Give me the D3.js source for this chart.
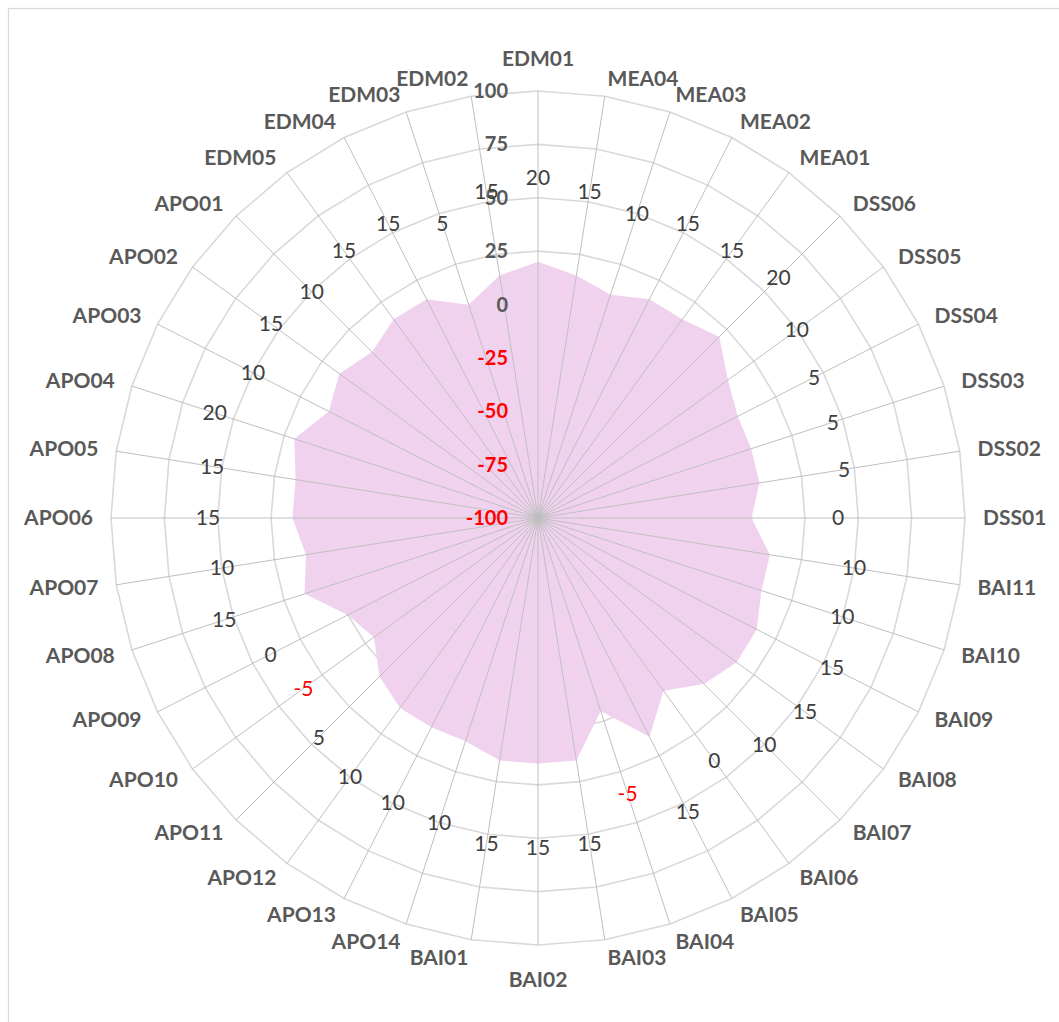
<!DOCTYPE html>
<html>
<head>
<meta charset="utf-8">
<script src="https://cdn.jsdelivr.net/npm/d3@7"></script>
<style>
  html, body { margin: 0; padding: 0; background: #fff; }
  svg { display: block; }
</style>
</head>
<body>
<svg id="chart" width="1059" height="1022"></svg>
<script>
// ---- data ----
const categories = ["EDM01","MEA04","MEA03","MEA02","MEA01","DSS06","DSS05","DSS04","DSS03","DSS02",
  "DSS01","BAI11","BAI10","BAI09","BAI08","BAI07","BAI06","BAI05","BAI04","BAI03",
  "BAI02","BAI01","APO14","APO13","APO12","APO11","APO10","APO09","APO08","APO07",
  "APO06","APO05","APO04","APO03","APO02","APO01","EDM05","EDM04","EDM03","EDM02"];
const values = [20,15,10,15,15,20,10,5,5,5,
  0,10,10,15,15,10,0,15,-5,15,
  15,15,10,10,10,5,-5,0,15,10,
  15,15,20,10,15,10,15,15,5,15];
const axisTicks = [-100,-75,-50,-25,0,25,50,75,100];

// ---- layout ----
const W = 1059, H = 1022;
const cx = 538, cy = 518, R = 427;
const svg = d3.select("#chart");
const font = "Lato, 'Open Sans', 'Liberation Sans', sans-serif";

// chart border (only top/left visible in frame)
svg.append("rect").attr("x", 8.5).attr("y", 8.5).attr("width", W + 20).attr("height", H + 20)
  .attr("fill", "none").attr("stroke", "#d9d9d9").attr("stroke-width", 1.2);

const g = svg.append("g").attr("transform", `translate(${cx},${cy})`);

const r = d3.scaleLinear().domain([-100, 100]).range([0, R]);
const angle = d3.scaleLinear().domain([0, categories.length]).range([0, 2 * Math.PI]);
const labelR = d3.scaleLinear().domain([-5, 20]).range([290, 340]);

const ringLine = d3.lineRadial()
  .angle((d, i) => angle(i))
  .radius(d => d)
  .curve(d3.curveLinearClosed);

// rings
g.selectAll("path.ring").data(axisTicks.filter(t => t > -100)).join("path")
  .attr("class", "ring")
  .attr("d", t => ringLine(categories.map(() => r(t))))
  .attr("fill", "none").attr("stroke", "#d9d9d9").attr("stroke-width", 1.6);

// series area
const area = d3.lineRadial()
  .angle((d, i) => angle(i))
  .radius(d => r(d))
  .curve(d3.curveLinearClosed);
g.append("path").datum(values)
  .attr("d", area)
  .attr("fill", "#f0d2ee").attr("stroke", "none");

// spokes
g.selectAll("line.spoke").data(categories).join("line")
  .attr("class", "spoke")
  .attr("x1", 0).attr("y1", 0)
  .attr("x2", (d, i) => R * Math.sin(angle(i)))
  .attr("y2", (d, i) => -R * Math.cos(angle(i)))
  .attr("stroke", "#bfbfbf").attr("stroke-width", 1);

// axis tick labels
g.selectAll("text.tick").data(axisTicks).join("text")
  .attr("class", "tick")
  .attr("x", -30)
  .attr("y", t => -r(t))
  .attr("dy", "0.35em")
  .attr("text-anchor", "end")
  .attr("font-family", font).attr("font-weight", "bold").attr("font-size", 20)
  .attr("fill", t => t < 0 ? "#ff0000" : "#595959")
  .text(t => t);

// data labels
g.selectAll("text.val").data(values).join("text")
  .attr("class", "val")
  .attr("x", (v, i) => labelR(v) * Math.sin(angle(i)))
  .attr("y", (v, i) => -labelR(v) * Math.cos(angle(i)))
  .attr("dy", "0.35em")
  .attr("text-anchor", "middle")
  .attr("font-family", font).attr("font-size", 21)
  .attr("fill", v => v < 0 ? "#ff0000" : "#404040")
  .text(v => v);

// category labels
const catR = R + 18;
g.selectAll("text.cat").data(categories).join("text")
  .attr("class", "cat")
  .each(function(c, i) {
    const a = angle(i);
    const s = Math.sin(a), co = Math.cos(a);
    let anchor = "middle", dy = 0;
    if (Math.abs(s) < 0.01) {
      dy = co > 0 ? -14 : 17;
    } else {
      anchor = s > 0 ? "start" : "end";
    }
    d3.select(this)
      .attr("x", catR * s)
      .attr("y", -catR * co + dy)
      .attr("dy", "0.35em")
      .attr("text-anchor", anchor);
  })
  .attr("font-family", font).attr("font-weight", "bold").attr("font-size", 21)
  .attr("fill", "#595959")
  .text(c => c);
</script>
</body>
</html>
